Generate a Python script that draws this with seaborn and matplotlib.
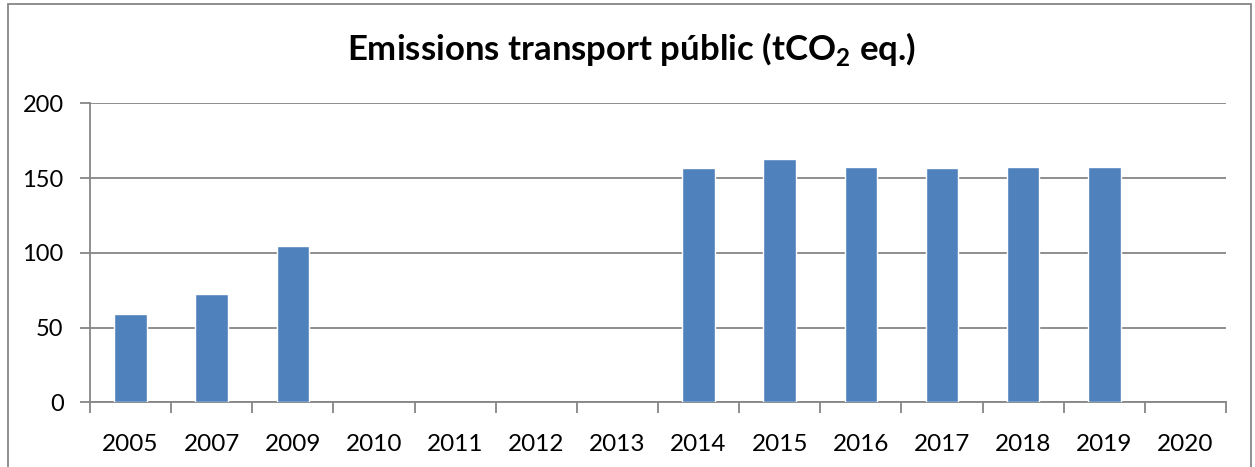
import numpy as np
import pandas as pd
import matplotlib
matplotlib.use("Agg")
import matplotlib.pyplot as plt
from matplotlib.patches import Rectangle
import seaborn as sns

# Public transport emissions per year (tCO2 eq.); blank years have no data
years = ["2005", "2007", "2009", "2010", "2011", "2012", "2013",
         "2014", "2015", "2016", "2017", "2018", "2019", "2020"]
emissions = [59, 72.4, 104.5, np.nan, np.nan, np.nan, np.nan,
             156.5, 162.9, 157.6, 156.9, 157.6, 157.4, np.nan]
y_ticks = [0, 50, 100, 150, 200]

df = pd.DataFrame({"any": years, "tCO2": emissions})

sns.set_theme(style="white")
plt.rcParams["font.family"] = ["Lato", "DejaVu Sans"]
plt.rcParams["mathtext.fontset"] = "custom"
plt.rcParams["mathtext.rm"] = "Lato"
plt.rcParams["mathtext.bf"] = "Lato:bold"

grey = "#868686"
fig = plt.figure(figsize=(12.55, 4.67), dpi=100)
ax = fig.add_axes([0.0717, 0.1385, 0.9052, 0.6403])

sns.barplot(data=df.dropna(), x="any", y="tCO2", order=years, color="#4F81BD",
            saturation=1, width=0.4, ax=ax, zorder=3)

ax.set_xlim(-0.5, len(years) - 0.5)
ax.set_ylim(0, 200)
ax.set_yticks(y_ticks)
ax.set_xlabel("")
ax.set_ylabel("")

# horizontal gridlines
ax.yaxis.grid(True, color=grey, linewidth=1.3, zorder=0)
ax.set_axisbelow(True)
for side in ("top", "right"):
    ax.spines[side].set_visible(False)
for side in ("left", "bottom"):
    ax.spines[side].set_color(grey)
    ax.spines[side].set_linewidth(1.3)

# category boundary ticks on the x axis
ax.set_xticks(np.arange(-0.5, len(years), 1.0), minor=True)
ax.tick_params(axis="x", which="major", length=0, pad=23, labelsize=17.5, bottom=True)
ax.tick_params(axis="x", which="minor", length=8, width=1.3, color=grey,
               direction="out", bottom=True)
ax.tick_params(axis="y", which="major", length=7, width=1.3, color=grey,
               direction="out", pad=12, labelsize=17, left=True)
for lbl in ax.get_xticklabels() + ax.get_yticklabels():
    lbl.set_color("black")

fig.text(0.5035, 0.895, r"Emissions transport públic (tCO$_\mathbf{2}$ eq.)",
         ha="center", va="center", fontsize=25, fontweight="bold", color="black")

# chart frame
fig.patches.append(Rectangle((8 / 1255, -0.02), 1243 / 1255, 1.02 - 4 / 467,
                             transform=fig.transFigure, fill=False,
                             edgecolor=grey, linewidth=1.3))

fig.savefig("out.png", dpi=100)
